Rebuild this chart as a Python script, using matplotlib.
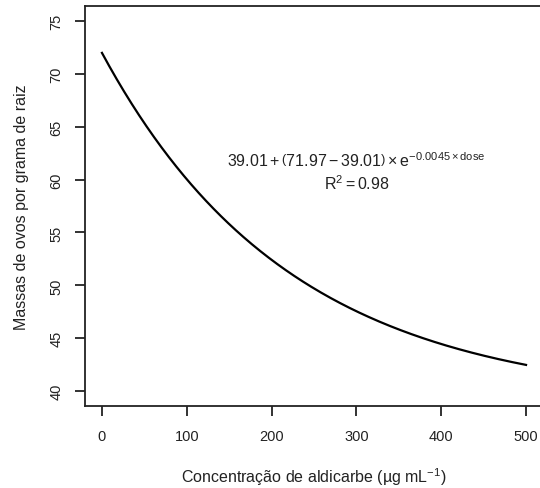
import numpy as np
import matplotlib
matplotlib.use("Agg")
import matplotlib.pyplot as plt

# Fitted model parameters (from the equation shown on the chart)
lower_asym = 39.01
upper_asym = 71.97
rate = 0.0045
r_squared = 0.98

dose_min, dose_max = 0, 500
x_ticks = [0, 100, 200, 300, 400, 500]
y_ticks = [40, 45, 50, 55, 60, 65, 70, 75]

plt.rcParams['font.family'] = ['Liberation Sans', 'DejaVu Sans']
plt.rcParams['mathtext.fontset'] = 'custom'
plt.rcParams['mathtext.rm'] = 'Liberation Sans'
plt.rcParams['mathtext.it'] = 'Liberation Sans:italic'
plt.rcParams['mathtext.sf'] = 'Liberation Sans'

dose = np.linspace(dose_min, dose_max, 400)
resp = lower_asym + (upper_asym - lower_asym) * np.exp(-rate * dose)

fig = plt.figure(figsize=(5.40, 4.89), dpi=100)
ax = fig.add_axes([85/540, 1-407/489, 458/540, 400/489])
ax.plot(dose, resp, color='black', lw=1.6)

ax.set_xlim(-20, 520)
ax.set_ylim(38.6, 76.4)
ax.set_xticks(x_ticks)
ax.set_yticks(y_ticks)
ax.set_xticklabels([str(v) for v in x_ticks], fontsize=10.5, color='#222222')
ax.set_yticklabels([str(v) for v in y_ticks], fontsize=10.5, rotation=90, va='center', color='#222222')
ax.tick_params(axis='both', direction='out', length=7.5, width=1.3, color='#222222')
ax.tick_params(axis='x', pad=9)
ax.tick_params(axis='y', pad=8)
for s in ax.spines.values():
    s.set_linewidth(1.3)
    s.set_color('#222222')

ax.set_xlabel('Concentração de aldicarbe (\u00b5g mL$^{-1}$)', fontsize=11.5, labelpad=16, color='#222222')
ax.set_ylabel('Massas de ovos por grama de raiz', fontsize=11.5, labelpad=15, color='#222222')

eq = (r'$%.2f + \left(%.2f - %.2f\right) \times \mathrm{e}^{-%.4f \times \mathrm{dose}}$'
      % (lower_asym, upper_asym, lower_asym, rate))
ax.text(300, 61.85, eq, ha='center', va='center', fontsize=11.5, color='#222222')
ax.text(300, 59.75, r'$\mathrm{R}^{2} = %.2f$' % r_squared, ha='center', va='center',
        fontsize=11.5, color='#222222')

fig.savefig('out.png', dpi=100)
